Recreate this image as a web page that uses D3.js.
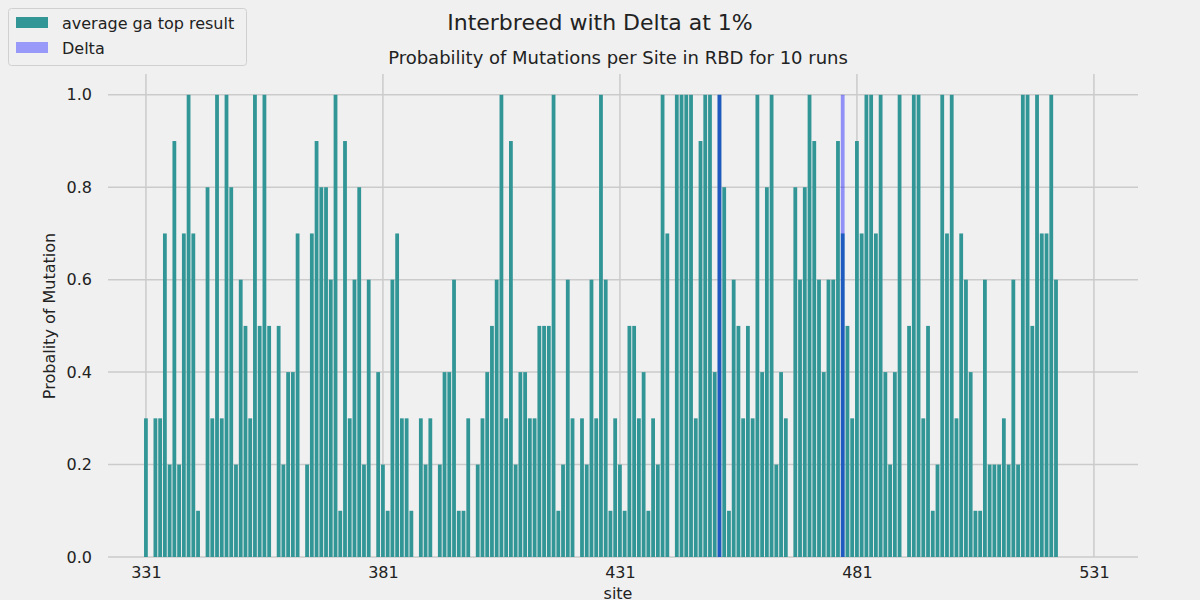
<!DOCTYPE html>
<html>
<head>
<meta charset="utf-8">
<script src="https://cdn.jsdelivr.net/npm/d3@7"></script>
<style>
  body { margin: 0; background: #f0f0f0; }
  text { font-family: "DejaVu Sans", sans-serif; }
</style>
</head>
<body>
<svg id="chart" width="1200" height="600"></svg>
<script>
// sites 331..523, probability from the GA top result
var firstSite = 331;
var gaValues = [
  0.3,0,0.3,0.3,0.7,0.2,0.9,0.2,0.7,1.0, 0.7,0.1,0,0.8,0.3,1.0,0.3,1.0,0.8,0.2,
  0.6,0.5,0.3,1.0,0.5,1.0,0.5,0,0.5,0.2, 0.4,0.4,0.7,0,0.2,0.7,0.9,0.8,0.8,0.6,
  1.0,0.1,0.9,0.3,0.6,0.8,0.2,0.6,0,0.4, 0.2,0.1,0.6,0.7,0.3,0.3,0.1,0,0.3,0.2,
  0.3,0,0.2,0.4,0.4,0.6,0.1,0.1,0.3,0, 0.2,0.3,0.4,0.5,0.6,1.0,0.3,0.9,0.2,0.4,
  0.4,0.3,0.3,0.5,0.5,0.5,1.0,0.1,0.2,0.6, 0.3,0,0.3,0.2,0.6,0.3,1.0,0.6,0.1,0.3,
  0.2,0.1,0.5,0.5,0.3,0.4,0.1,0.3,0.2,1.0, 0.7,0,1.0,1.0,1.0,1.0,0.3,0.9,1.0,1.0,
  0.4,1.0,0.8,0.1,0.6,0.5,0.3,0.5,0.3,1.0, 0.4,0.8,1.0,0.2,0.4,0.3,0,0.8,0.6,0.8,
  1.0,0.9,0.6,0.4,0.6,0.6,0.9,0.7,0.5,0.3, 0.9,0.7,1.0,1.0,0.7,1.0,0.4,0.2,0.4,1.0,
  0,0.5,1.0,1.0,0.3,0.5,0.1,0.2,1.0,0.7, 1.0,0.3,0.7,0.6,0.4,0.1,0.1,0.6,0.2,0.2,
  0.2,0.3,0.2,0.6,0.2,1.0,1.0,0.5,1.0,0.7, 0.7,1.0,0.6
];
var deltaSites = [452, 478];
var deltaValues = [1.0, 1.0];
var xTicks = [331, 381, 431, 481, 531];
var yTicks = [0, 0.2, 0.4, 0.6, 0.8, 1.0];

var gaData = gaValues.map((v, i) => ({site: firstSite + i, value: v}));
var deltaData = deltaSites.map((s, i) => ({site: s, value: deltaValues[i]}));

var svg = d3.select("#chart");
var plotL = 108, plotR = 1138, plotT = 74, plotB = 557;

var x = d3.scaleLinear().domain([323, 540.3]).range([plotL, plotR]);
var y = d3.scaleLinear().domain([0, 1.045]).range([plotB, plotT]);
var barW = (x(1) - x(0)) * 0.8;

// grid
svg.append("g").selectAll("line").data(xTicks).join("line")
  .attr("x1", d => x(d)).attr("x2", d => x(d))
  .attr("y1", plotT).attr("y2", plotB)
  .attr("stroke", "#cbcbcb").attr("stroke-width", 1.5);
svg.append("g").selectAll("line").data(yTicks).join("line")
  .attr("x1", plotL).attr("x2", plotR)
  .attr("y1", d => y(d)).attr("y2", d => y(d))
  .attr("stroke", "#cbcbcb").attr("stroke-width", 1.5);

// bars
svg.append("g").selectAll("rect").data(gaData.filter(d => d.value > 0)).join("rect")
  .attr("x", d => x(d.site) - barW / 2).attr("width", barW)
  .attr("y", d => y(d.value)).attr("height", d => y(0) - y(d.value))
  .attr("fill", "rgb(50,150,150)");
svg.append("g").selectAll("rect").data(deltaData).join("rect")
  .attr("x", d => x(d.site) - barW / 2).attr("width", barW)
  .attr("y", d => y(d.value)).attr("height", d => y(0) - y(d.value))
  .attr("fill", "rgba(0,0,255,0.4)");

// axes
var xAxis = svg.append("g").attr("transform", `translate(0,${plotB})`)
  .call(d3.axisBottom(x).tickValues(xTicks).tickSize(0).tickPadding(10));
var yAxis = svg.append("g").attr("transform", `translate(${plotL},0)`)
  .call(d3.axisLeft(y).tickValues(yTicks).tickFormat(d3.format(".1f")).tickSize(0).tickPadding(16));
[xAxis, yAxis].forEach(a => {
  a.select(".domain").remove();
  a.selectAll("text").attr("font-size", 16).attr("fill", "#222");
});

// titles
svg.append("text").attr("x", 600).attr("y", 30).attr("text-anchor", "middle")
  .attr("font-size", 22).attr("fill", "#222").text("Interbreed with Delta at 1%");
svg.append("text").attr("x", 618).attr("y", 64).attr("text-anchor", "middle")
  .attr("font-size", 18).attr("fill", "#222").text("Probability of Mutations per Site in RBD for 10 runs");
svg.append("text").attr("x", 618).attr("y", 599).attr("text-anchor", "middle")
  .attr("font-size", 16).attr("fill", "#222").text("site");
svg.append("text").attr("transform", "translate(55,316) rotate(-90)").attr("text-anchor", "middle")
  .attr("font-size", 16).attr("fill", "#222").text("Probality of Mutation");

// legend
var leg = svg.append("g");
leg.append("rect").attr("x", 8.5).attr("y", 8.5).attr("width", 238).attr("height", 57).attr("rx", 3)
  .attr("fill", "#f0f0f0").attr("stroke", "#d0d0d0");
var legItems = [["average ga top result", "rgb(50,150,150)"], ["Delta", "rgb(153,153,250)"]];
legItems.forEach((it, i) => {
  leg.append("rect").attr("x", 16).attr("y", 17 + i * 25).attr("width", 32).attr("height", 11).attr("fill", it[1]);
  leg.append("text").attr("x", 62).attr("y", 29 + i * 25).attr("font-size", 16).attr("fill", "#222").text(it[0]);
});
</script>
</body>
</html>
